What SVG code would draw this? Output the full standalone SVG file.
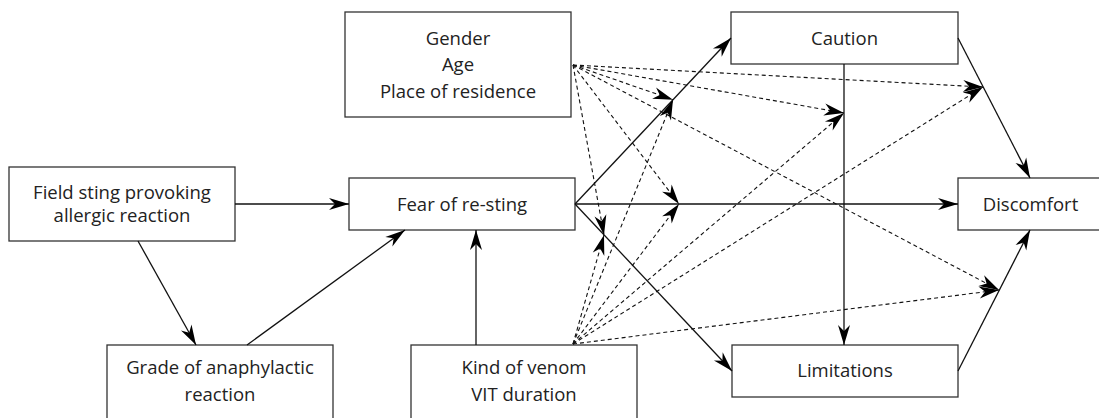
<svg xmlns="http://www.w3.org/2000/svg" width="1099" height="418" viewBox="0 0 1099 418">
<style>
.box{fill:#fff;stroke:#333;stroke-width:1.3}
.t{font-family:"Open Sans","Noto Sans",sans-serif;font-size:18.5px;fill:#222;text-anchor:middle}
.e{stroke:#111;stroke-width:1.3;fill:none;marker-end:url(#ah)}
.d{stroke:#111;stroke-width:1.1;fill:none;stroke-dasharray:4 3;marker-end:url(#ah)}
</style>
<defs>
<marker id="ah" markerUnits="userSpaceOnUse" markerWidth="24" markerHeight="16" viewBox="-21 -8 23 16" refX="0" refY="0" orient="auto">
<path d="M0,0 L-20,-6 L-14,0 L-20,6 Z" fill="#000"/>
</marker>
</defs>
<g id="node-gender"><rect class="box" x="345" y="12" width="226" height="105"/><text class="t" x="458" y="44.5">Gender</text><text class="t" x="458" y="71">Age</text><text class="t" x="458" y="97.5">Place of residence</text></g>
<g id="node-caution"><rect class="box" x="731" y="12" width="227" height="52"/><text class="t" x="844.5" y="44.5">Caution</text></g>
<g id="node-field"><rect class="box" x="9" y="167" width="226" height="74"/><text class="t" x="122" y="198.5">Field sting provoking</text><text class="t" x="122" y="222">allergic reaction</text></g>
<g id="node-fear"><rect class="box" x="349" y="178" width="226" height="52"/><text class="t" x="462" y="210.5">Fear of re-sting</text></g>
<g id="node-discomfort"><rect class="box" x="958" y="178" width="150" height="52"/><text class="t" x="1030.5" y="210.5">Discomfort</text></g>
<g id="node-grade"><rect class="box" x="107" y="345" width="226" height="90"/><text class="t" x="220" y="373.5">Grade of anaphylactic</text><text class="t" x="220" y="401">reaction</text></g>
<g id="node-venom"><rect class="box" x="411" y="345" width="226" height="90"/><text class="t" x="524" y="373.5">Kind of venom</text><text class="t" x="524" y="401">VIT duration</text></g>
<g id="node-limitations"><rect class="box" x="732" y="345" width="226" height="52"/><text class="t" x="845" y="377">Limitations</text></g>
<g id="connectors">
<line class="e" x1="235" y1="204" x2="349" y2="204"/>
<line class="e" x1="138" y1="241" x2="196" y2="345"/>
<line class="e" x1="247" y1="345" x2="405" y2="230"/>
<line class="e" x1="476" y1="345" x2="476" y2="230"/>
<line class="e" x1="575" y1="204" x2="731" y2="38"/>
<line class="e" x1="575" y1="204" x2="958" y2="204"/>
<line class="e" x1="575" y1="204" x2="732" y2="371"/>
<line class="e" x1="844" y1="64" x2="844" y2="345"/>
<line class="e" x1="958" y1="38" x2="1030" y2="178"/>
<line class="e" x1="958" y1="371" x2="1030" y2="230"/>
<line class="d" x1="573" y1="65" x2="673" y2="99.7"/>
<line class="d" x1="573" y1="65" x2="844" y2="113"/>
<line class="d" x1="573" y1="65" x2="983" y2="87"/>
<line class="d" x1="573" y1="65" x2="679" y2="204"/>
<line class="d" x1="573" y1="65" x2="604" y2="235"/>
<line class="d" x1="573" y1="65" x2="999" y2="290"/>
<line class="d" x1="573" y1="344" x2="673" y2="99.7"/>
<line class="d" x1="573" y1="344" x2="844" y2="113"/>
<line class="d" x1="573" y1="344" x2="983" y2="87"/>
<line class="d" x1="573" y1="344" x2="679" y2="204"/>
<line class="d" x1="573" y1="344" x2="604" y2="235"/>
<line class="d" x1="573" y1="344" x2="999" y2="290"/>
</g>
</svg>
